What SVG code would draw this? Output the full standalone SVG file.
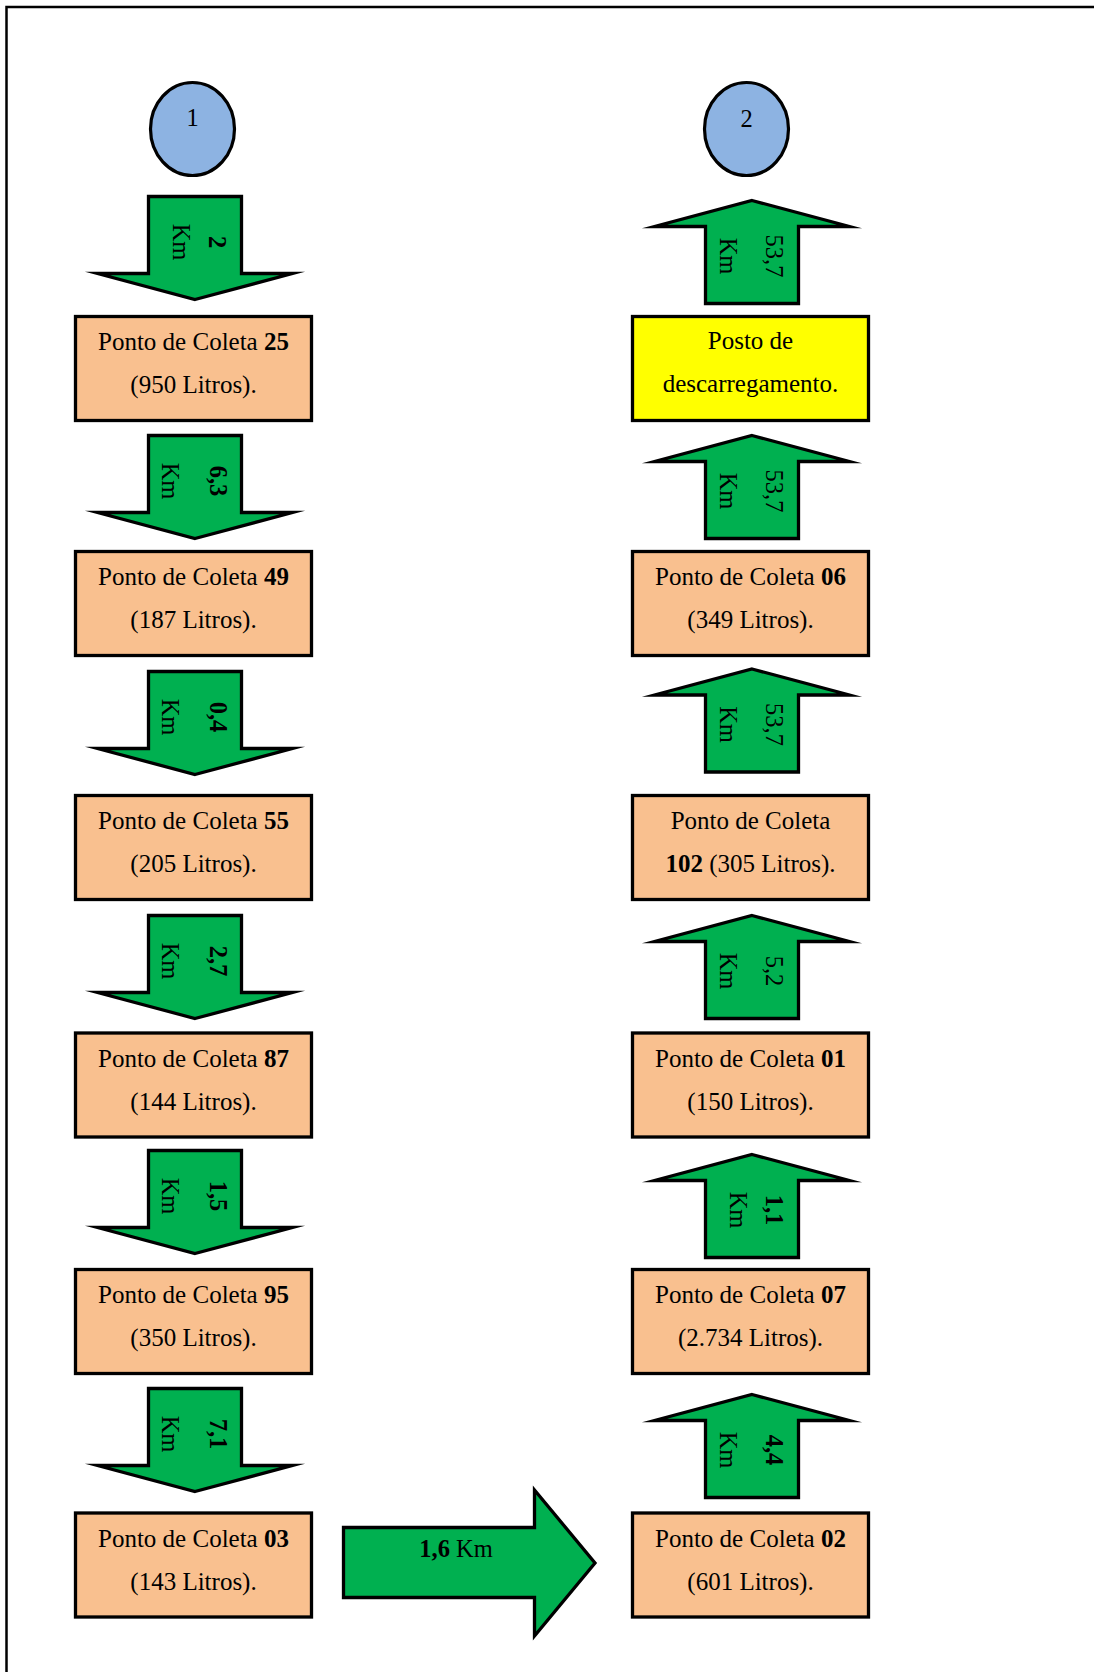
<svg xmlns="http://www.w3.org/2000/svg" xmlns:xlink="http://www.w3.org/1999/xlink" width="1094" height="1672" viewBox="0 0 1094 1672">
  <style>
    text { font-family: "Liberation Serif", "Times New Roman", serif; fill: #000; }
    .lbl { font-size: 25px; text-anchor: middle; }
    .num { font-size: 24.5px; text-anchor: middle; }
    .b { font-weight: bold; }
    .box { fill: #F9C08F; stroke: #000; stroke-width: 3.3; }
    .dump { fill: #FFFF00; stroke: #000; stroke-width: 3.3; }
    .start { fill: #8DB3E2; stroke: #000; stroke-width: 3.2; }
    .arrow { fill: #00B050; stroke: #000; stroke-width: 3.3; stroke-linejoin: miter; stroke-miterlimit: 10; }
  </style>
  <defs>
    <!-- block arrow pointing up, tip at local (0,0) -->
    <path id="blockArrow" d="M0,1.5 L97.5,27.5 L46.5,27.5 L46.5,104.5 L-46.5,104.5 L-46.5,27.5 L-97.5,27.5 Z"/>
  </defs>

  <rect width="1094" height="1672" fill="#fff"/>
  <!-- page frame -->
  <path d="M6.5,1672 V7 H1094" fill="none" stroke="#000" stroke-width="2.5"/>

  <!-- start markers -->
  <g id="start-1">
    <ellipse class="start" cx="192.5" cy="129" rx="42" ry="46.5"/>
    <text class="num" x="192.5" y="126">1</text>
  </g>
  <g id="start-2">
    <ellipse class="start" cx="746.5" cy="129" rx="42" ry="46.5"/>
    <text class="num" x="746.5" y="127">2</text>
  </g>

  <!-- left column: collection points -->
  <g id="p25">
    <rect class="box" x="75.5" y="316.5" width="236" height="104"/>
    <text class="lbl" x="193.5" y="350">Ponto de Coleta <tspan class="b">25</tspan></text>
    <text class="lbl" x="193.5" y="393">(950 Litros).</text>
  </g>
  <g id="p49">
    <rect class="box" x="75.5" y="551.5" width="236" height="104"/>
    <text class="lbl" x="193.5" y="585">Ponto de Coleta <tspan class="b">49</tspan></text>
    <text class="lbl" x="193.5" y="628">(187 Litros).</text>
  </g>
  <g id="p55">
    <rect class="box" x="75.5" y="795.5" width="236" height="104"/>
    <text class="lbl" x="193.5" y="829">Ponto de Coleta <tspan class="b">55</tspan></text>
    <text class="lbl" x="193.5" y="872">(205 Litros).</text>
  </g>
  <g id="p87">
    <rect class="box" x="75.5" y="1033" width="236" height="104"/>
    <text class="lbl" x="193.5" y="1066.5">Ponto de Coleta <tspan class="b">87</tspan></text>
    <text class="lbl" x="193.5" y="1109.5">(144 Litros).</text>
  </g>
  <g id="p95">
    <rect class="box" x="75.5" y="1269.5" width="236" height="104"/>
    <text class="lbl" x="193.5" y="1303">Ponto de Coleta <tspan class="b">95</tspan></text>
    <text class="lbl" x="193.5" y="1346">(350 Litros).</text>
  </g>
  <g id="p03">
    <rect class="box" x="75.5" y="1513" width="236" height="104"/>
    <text class="lbl" x="193.5" y="1546.5">Ponto de Coleta <tspan class="b">03</tspan></text>
    <text class="lbl" x="193.5" y="1589.5">(143 Litros).</text>
  </g>

  <!-- right column: collection points and unloading station -->
  <g id="unload">
    <rect class="dump" x="632.5" y="316.5" width="236" height="104"/>
    <text class="lbl" x="750.5" y="348.5">Posto de</text>
    <text class="lbl" x="750.5" y="392">descarregamento.</text>
  </g>
  <g id="p06">
    <rect class="box" x="632.5" y="551.5" width="236" height="104"/>
    <text class="lbl" x="750.5" y="585">Ponto de Coleta <tspan class="b">06</tspan></text>
    <text class="lbl" x="750.5" y="628">(349 Litros).</text>
  </g>
  <g id="p102">
    <rect class="box" x="632.5" y="795.5" width="236" height="104"/>
    <text class="lbl" x="750.5" y="829">Ponto de Coleta</text>
    <text class="lbl" x="750.5" y="872"><tspan class="b">102</tspan> (305 Litros).</text>
  </g>
  <g id="p01">
    <rect class="box" x="632.5" y="1033" width="236" height="104"/>
    <text class="lbl" x="750.5" y="1066.5">Ponto de Coleta <tspan class="b">01</tspan></text>
    <text class="lbl" x="750.5" y="1109.5">(150 Litros).</text>
  </g>
  <g id="p07">
    <rect class="box" x="632.5" y="1269.5" width="236" height="104"/>
    <text class="lbl" x="750.5" y="1303">Ponto de Coleta <tspan class="b">07</tspan></text>
    <text class="lbl" x="750.5" y="1346">(2.734 Litros).</text>
  </g>
  <g id="p02">
    <rect class="box" x="632.5" y="1513" width="236" height="104"/>
    <text class="lbl" x="750.5" y="1546.5">Ponto de Coleta <tspan class="b">02</tspan></text>
    <text class="lbl" x="750.5" y="1589.5">(601 Litros).</text>
  </g>

  <!-- route legs with distances -->
  <g id="connectors">
    <!-- downward legs, left column -->
    <use class="arrow" xlink:href="#blockArrow" href="#blockArrow" transform="translate(195,301) scale(1,-1)"/>
    <text class="num b" x="209" y="242" transform="rotate(90 209 242)">2</text>
    <text class="num" x="173" y="242" transform="rotate(90 173 242)">Km</text>

    <use class="arrow" xlink:href="#blockArrow" href="#blockArrow" transform="translate(195,540) scale(1,-1)"/>
    <text class="num b" x="210" y="481" transform="rotate(90 210 481)">6,3</text>
    <text class="num" x="162" y="481" transform="rotate(90 162 481)">Km</text>

    <use class="arrow" xlink:href="#blockArrow" href="#blockArrow" transform="translate(195,776) scale(1,-1)"/>
    <text class="num b" x="210" y="717" transform="rotate(90 210 717)">0,4</text>
    <text class="num" x="162" y="717" transform="rotate(90 162 717)">Km</text>

    <use class="arrow" xlink:href="#blockArrow" href="#blockArrow" transform="translate(195,1020) scale(1,-1)"/>
    <text class="num b" x="210" y="961" transform="rotate(90 210 961)">2,7</text>
    <text class="num" x="162" y="961" transform="rotate(90 162 961)">Km</text>

    <use class="arrow" xlink:href="#blockArrow" href="#blockArrow" transform="translate(195,1255) scale(1,-1)"/>
    <text class="num b" x="210" y="1196" transform="rotate(90 210 1196)">1,5</text>
    <text class="num" x="162" y="1196" transform="rotate(90 162 1196)">Km</text>

    <use class="arrow" xlink:href="#blockArrow" href="#blockArrow" transform="translate(195,1493) scale(1,-1)"/>
    <text class="num b" x="210" y="1434" transform="rotate(90 210 1434)">7,1</text>
    <text class="num" x="162" y="1434" transform="rotate(90 162 1434)">Km</text>

    <!-- crossing leg -->
    <path class="arrow" d="M343.5,1527.5 H534.5 V1490 L595,1563 L534.5,1636 V1597.5 H343.5 Z"/>
    <text class="num" x="456" y="1557"><tspan class="b">1,6</tspan> Km</text>

    <!-- upward legs, right column -->
    <use class="arrow" xlink:href="#blockArrow" href="#blockArrow" transform="translate(752,1393)"/>
    <text class="num b" x="766" y="1450" transform="rotate(90 766 1450)">4,4</text>
    <text class="num" x="720" y="1450" transform="rotate(90 720 1450)">Km</text>

    <use class="arrow" xlink:href="#blockArrow" href="#blockArrow" transform="translate(752,1153)"/>
    <text class="num b" x="766" y="1210" transform="rotate(90 766 1210)">1,1</text>
    <text class="num" x="730" y="1210" transform="rotate(90 730 1210)">Km</text>

    <use class="arrow" xlink:href="#blockArrow" href="#blockArrow" transform="translate(752,914)"/>
    <text class="num" x="766" y="971" transform="rotate(90 766 971)">5,2</text>
    <text class="num" x="720" y="971" transform="rotate(90 720 971)">Km</text>

    <use class="arrow" xlink:href="#blockArrow" href="#blockArrow" transform="translate(752,667.5)"/>
    <text class="num" x="766" y="724.5" transform="rotate(90 766 724.5)">53,7</text>
    <text class="num" x="720" y="724.5" transform="rotate(90 720 724.5)">Km</text>

    <use class="arrow" xlink:href="#blockArrow" href="#blockArrow" transform="translate(752,434)"/>
    <text class="num" x="766" y="491" transform="rotate(90 766 491)">53,7</text>
    <text class="num" x="720" y="491" transform="rotate(90 720 491)">Km</text>

    <use class="arrow" xlink:href="#blockArrow" href="#blockArrow" transform="translate(752,199)"/>
    <text class="num" x="766" y="256" transform="rotate(90 766 256)">53,7</text>
    <text class="num" x="720" y="256" transform="rotate(90 720 256)">Km</text>
  </g>
</svg>
